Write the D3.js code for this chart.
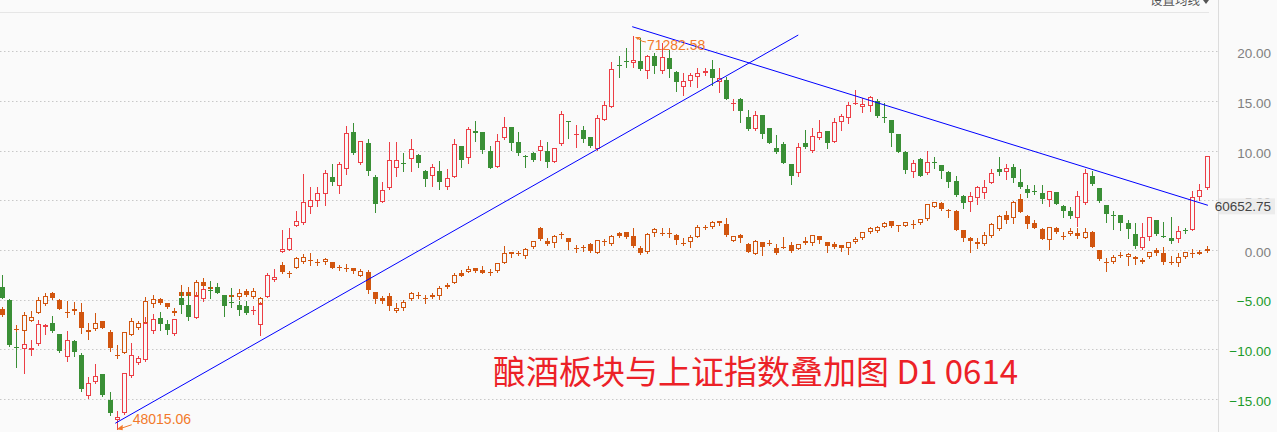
<!DOCTYPE html>
<html><head><meta charset="utf-8">
<script src="https://cdn.jsdelivr.net/npm/d3@7"></script>
<style>html,body{margin:0;padding:0;background:#fafafa;overflow:hidden}</style>
</head><body><svg id="c" width="1277" height="432"></svg>
<script>
// 酿酒板块 (main) candles, % change: [open, high, low, close]
const sectorOHLC = [
[-3.70,-2.52,-4.83,-4.80],[-5.04,-4.93,-9.67,-9.57],[-9.72,-8.26,-11.78,-9.82],[-9.97,-9.37,-12.39,-9.47],[-10.07,-9.06,-10.57,-9.87],
[-9.47,-7.05,-9.57,-7.45],[-7.80,-7.45,-8.46,-7.58],[-7.32,-6.60,-8.21,-8.16],[-8.46,-8.46,-10.24,-10.14],[-10.81,-8.13,-11.15,-9.06],
[-9.16,-9.11,-10.64,-10.24],[-10.62,-10.34,-14.23,-14.00],[-14.67,-12.76,-14.95,-13.42],[-13.34,-11.51,-13.36,-12.64],[-12.52,-12.49,-14.70,-14.65],
[-15.11,-14.33,-16.62,-16.44],[-17.07,-16.26,-18.00,-16.82],[-16.46,-12.39,-16.51,-12.42],[-12.69,-9.40,-12.79,-10.60],[-11.41,-10.67,-11.48,-10.91],
[-11.08,-6.72,-11.13,-7.35],[-8.11,-6.44,-8.31,-6.92],[-6.88,-6.27,-8.06,-7.45],[-7.45,-7.05,-8.41,-8.06],[-8.49,-6.95,-8.53,-6.98],
[-4.80,-4.18,-6.31,-5.54],[-5.54,-4.43,-7.05,-6.78],[-6.80,-4.23,-6.85,-4.63],[-4.96,-3.68,-5.11,-3.96],[-3.98,-3.12,-4.80,-4.08],
[-3.73,-3.35,-4.38,-4.33],[-4.53,-4.53,-6.65,-5.61],[-5.24,-3.83,-5.74,-5.34],[-5.54,-5.14,-6.55,-6.04],[-5.64,-5.14,-6.44,-6.31],
[-6.12,-5.61,-6.44,-6.07],[-7.55,-5.24,-8.56,-5.44],[-4.70,-2.29,-4.76,-2.52],[-3.02,-1.94,-3.12,-2.75],[-0.17,2.01,-0.20,0.10],
[0.00,2.19,-0.05,1.24],[2.45,3.88,2.42,2.92],[2.69,7.65,2.62,4.83],[4.30,6.31,3.76,5.04],[4.96,6.31,4.45,5.71],
[5.59,8.01,4.58,7.72],[7.35,8.66,6.55,6.80],[6.48,8.86,5.74,8.66],[8.13,12.52,7.68,11.75],[11.85,12.82,9.67,9.74],
[8.73,10.98,8.66,10.95],[10.74,11.15,7.58,7.96],[7.35,7.55,3.86,4.68],[4.86,6.82,4.83,6.04],[6.21,10.83,6.19,9.03],
[8.21,10.83,7.47,9.06],[8.76,9.74,7.98,8.70],[9.13,11.18,7.96,10.14],[9.57,9.67,8.33,8.73],[7.99,8.06,6.48,7.15],
[7.48,8.66,6.48,8.39],[7.96,8.96,6.11,6.88],[6.37,8.16,6.11,7.22],[7.38,11.15,7.32,10.64],[10.47,10.50,8.39,9.06],
[9.29,12.42,8.79,12.15],[11.98,12.99,11.01,11.81],[11.85,11.88,9.80,10.07],[9.97,10.47,8.26,8.29],[8.39,11.68,8.36,10.98],
[11.25,13.42,11.22,12.36],[12.36,12.39,10.07,10.74],[10.85,11.85,9.57,9.80],[9.44,9.57,8.33,9.37],[9.80,9.90,8.96,9.06],
[10.00,11.08,9.06,10.47],[9.97,10.85,8.33,8.89],[8.89,10.27,8.83,10.24],[10.64,14.00,10.57,13.70],[12.96,13.00,11.31,12.89],
[11.63,12.59,10.40,11.68],[12.08,12.49,10.91,11.15],[11.41,11.43,10.40,10.47],[10.17,13.59,10.12,13.26],[13.14,15.00,13.09,14.60],
[14.43,18.96,14.40,18.23],[18.66,19.57,17.39,18.60],[19.06,20.37,18.46,19.00],[18.80,21.55,18.46,19.13],[19.03,21.32,18.13,18.20],
[18.03,19.59,17.29,19.57],[19.57,19.81,17.79,18.56],[18.03,20.81,17.79,19.47],[19.30,20.14,17.39,18.20],[17.96,17.99,16.04,16.95],
[16.38,17.79,15.61,17.05],[17.05,17.85,16.55,17.62],[17.45,18.30,16.44,17.79],[17.79,18.36,17.62,18.03],[18.23,19.13,16.62,17.29],
[16.89,18.36,15.94,17.29],[17.12,17.45,15.16,15.21],[14.80,15.21,14.10,14.85],[15.21,15.34,12.92,14.00],[13.42,14.10,12.13,12.18],
[12.15,14.00,12.13,13.59],[13.59,13.61,11.25,11.65],[12.26,12.29,10.74,10.81],[10.30,11.58,9.74,9.84],[10.67,10.91,8.73,8.79],
[8.63,8.66,6.65,7.48],[7.72,10.77,7.48,10.42],[10.81,12.08,10.30,10.40],[10.00,12.26,9.90,11.48],[11.25,13.09,11.18,11.85],
[11.98,12.00,10.30,10.81],[10.91,13.26,10.88,12.86],[12.92,13.67,12.08,13.49],[13.32,14.87,12.76,14.60],[14.75,16.11,14.72,14.78],
[14.37,15.28,13.93,14.70],[14.53,15.51,14.03,15.38],[15.00,15.18,13.42,13.52],[13.39,14.77,12.92,13.33],[13.09,13.11,10.50,11.81],
[11.68,11.70,9.84,9.90],[9.90,10.00,7.78,8.06],[7.82,9.06,7.38,8.73],[9.16,9.29,7.46,7.48],[7.72,9.97,7.70,8.83],
[8.82,9.33,8.23,8.76],[8.56,8.58,7.28,7.99],[7.82,7.99,6.37,6.88],[6.95,7.48,5.44,5.54],[5.44,5.54,4.26,4.76],
[4.86,5.87,3.93,5.44],[5.21,6.44,4.60,6.37],[5.71,7.05,5.27,6.31],[6.72,8.13,6.70,7.72],[8.16,9.36,7.60,7.88],
[7.82,8.66,7.12,8.23],[8.33,8.66,6.88,7.22],[6.82,8.13,6.27,6.37],[6.11,6.55,5.31,5.71],[5.90,6.55,5.64,5.84],
[5.77,6.55,4.70,5.14],[5.04,5.96,4.46,5.94],[5.87,5.89,4.61,4.63],[4.46,4.53,3.35,3.96],[3.96,4.36,3.25,3.42],
[3.19,5.94,2.42,5.44],[4.70,8.13,4.68,7.72],[7.45,7.99,6.55,6.62],[6.21,6.27,4.80,4.96],[4.53,4.55,2.79,3.63],
[3.48,3.93,2.08,3.42],[3.52,3.55,2.01,2.75],[2.69,3.02,1.24,2.11],[1.61,2.69,0.17,0.40],[0.17,2.75,0.15,1.28],
[1.28,3.32,1.01,3.29],[3.02,3.04,1.51,1.61],[1.45,2.85,1.28,1.39],[1.24,3.29,0.67,0.91],[1.08,2.42,0.84,1.91],
[2.04,2.19,1.68,1.98],[2.01,5.94,1.99,5.31],[5.31,6.62,5.04,6.04],[6.21,9.49,6.19,9.47]
];
// 上证指数 (overlay) candles, % change: [open, high, low, close]
const indexOHLC = [
[-5.94,-5.74,-6.65,-6.55],[-6.55,-6.30,-7.60,-7.30],[-7.96,-7.55,-8.26,-7.99],[-8.13,-6.24,-9.33,-6.55],[-7.10,-6.14,-7.15,-6.78],
[-6.31,-4.70,-6.34,-5.04],[-5.44,-4.33,-5.54,-4.63],[-4.30,-4.23,-4.93,-4.80],[-5.04,-4.93,-5.94,-5.91],[-6.29,-5.14,-6.75,-6.24],
[-5.99,-5.24,-6.44,-6.14],[-6.21,-5.31,-8.31,-7.90],[-8.29,-7.32,-8.96,-8.06],[-7.99,-6.39,-8.01,-7.38],[-7.15,-7.10,-7.85,-7.82],
[-8.23,-8.01,-10.14,-9.90],[-10.57,-9.57,-10.83,-10.62],[-10.40,-8.23,-10.42,-8.26],[-8.53,-6.80,-8.56,-7.15],[-7.90,-7.10,-7.92,-7.38],
[-7.38,-4.70,-7.40,-5.14],[-5.39,-4.53,-5.69,-4.96],[-4.96,-4.86,-5.44,-5.31],[-5.37,-5.31,-5.84,-5.77],[-6.37,-5.81,-6.55,-6.14],
[-4.23,-3.52,-4.73,-4.63],[-4.26,-3.73,-4.73,-4.68],[-4.68,-3.02,-4.73,-3.19],[-3.19,-2.85,-3.70,-3.60],[-3.91,-3.63,-4.03,-3.71],
[-3.76,-3.52,-4.33,-4.30],[-4.60,-4.55,-5.00,-4.90],[-4.78,-4.33,-4.83,-4.53],[-4.70,-3.96,-4.96,-4.30],[-4.13,-3.93,-4.63,-4.56],
[-4.70,-3.83,-4.83,-4.13],[-5.44,-4.70,-5.54,-4.86],[-3.80,-3.20,-3.90,-3.30],[-3.00,-2.50,-3.10,-2.80],[-1.51,-1.24,-2.35,-2.19],
[-2.30,-2.08,-2.69,-2.37],[-1.78,-0.67,-1.84,-0.84],[-1.18,-0.43,-1.31,-0.67],[-0.99,-0.33,-1.51,-1.03],[-1.26,-0.91,-1.51,-1.23],
[-1.24,-0.84,-1.41,-0.94],[-1.21,-1.19,-1.81,-1.78],[-1.76,-1.51,-2.01,-1.80],[-1.83,-1.44,-2.08,-1.86],[-1.84,-1.78,-2.35,-2.08],
[-2.59,-1.94,-2.62,-2.11],[-2.25,-2.01,-4.30,-4.03],[-4.26,-4.23,-5.37,-4.96],[-4.86,-4.63,-5.37,-5.14],[-4.63,-4.36,-6.04,-5.61],
[-6.14,-5.29,-6.27,-5.81],[-5.87,-5.04,-6.04,-5.27],[-4.96,-4.20,-5.04,-4.30],[-4.55,-4.20,-4.86,-4.50],[-4.88,-4.53,-5.31,-4.85],
[-4.76,-4.30,-4.86,-4.53],[-4.63,-3.63,-4.96,-3.80],[-3.52,-3.29,-3.86,-3.76],[-3.29,-2.29,-3.35,-2.52],[-2.35,-2.01,-2.62,-2.59],
[-2.19,-1.61,-2.25,-1.91],[-1.84,-1.81,-2.19,-2.11],[-2.01,-1.61,-2.35,-2.29],[-2.17,-1.91,-2.52,-2.20],[-2.08,-1.28,-2.19,-1.34],
[-1.28,0.40,-1.31,-0.33],[-0.23,-0.20,-0.74,-0.43],[-0.32,-0.10,-0.50,-0.35],[-0.57,0.17,-0.78,0.07],[0.27,0.93,0.25,0.91],
[2.25,2.35,1.01,1.08],[0.91,1.18,0.50,0.60],[0.74,1.51,0.33,1.44],[1.61,1.84,1.18,1.64],[1.18,1.20,0.07,0.84],
[0.25,0.50,-0.23,0.22],[0.34,0.50,-0.07,0.31],[0.57,0.67,-0.17,-0.10],[-0.33,1.03,-0.35,1.01],[0.86,1.08,0.50,0.83],
[0.57,1.51,0.50,1.44],[1.68,1.78,1.34,1.44],[1.78,1.84,1.18,1.28],[1.41,2.25,0.33,0.43],[0.17,0.40,-0.40,-0.33],
[-0.23,1.68,-0.33,1.58],[1.68,2.25,1.44,2.08],[1.66,2.25,1.51,1.69],[1.69,2.19,1.34,1.66],[1.51,1.58,0.60,1.01],
[0.73,1.18,0.50,0.65],[0.78,1.51,0.33,1.28],[1.28,2.52,1.26,2.35],[2.35,2.52,2.11,2.19],[2.35,2.95,2.19,2.79],
[2.92,2.94,2.52,2.69],[2.59,3.25,1.44,1.51],[0.91,1.43,0.89,1.41],[1.51,1.58,0.78,1.18],[0.60,0.67,-0.23,-0.17],
[-0.40,0.96,-0.42,0.94],[0.78,0.81,-0.50,0.33],[0.70,1.01,0.50,0.65],[0.17,0.57,-0.40,-0.27],[0.35,1.34,0.17,0.31],
[0.50,0.84,-0.23,-0.10],[0.10,0.62,0.08,0.60],[0.91,1.34,0.60,0.74],[0.67,1.53,0.50,1.51],[1.41,1.43,0.74,1.01],
[0.78,0.81,-0.17,0.43],[0.60,0.84,0.23,0.33],[0.50,0.52,-0.10,0.17],[0.17,0.80,-0.43,0.78],[0.78,1.28,0.74,1.08],
[1.18,1.84,1.11,1.78],[1.78,2.35,1.76,2.25],[1.94,2.37,1.84,2.35],[2.29,2.77,2.27,2.75],[2.92,2.94,2.29,2.45],
[2.47,2.52,1.94,2.43],[2.45,2.85,2.44,2.79],[2.58,3.02,2.25,2.61],[2.69,3.14,2.62,3.12],[3.09,4.62,3.07,4.60],
[4.36,4.86,4.35,4.80],[4.70,4.80,4.03,4.13],[4.05,4.10,3.35,4.01],[3.93,4.03,1.99,2.01],[2.01,2.03,0.91,1.24],
[1.24,1.34,-0.17,0.91],[0.57,1.18,0.17,0.78],[0.57,1.84,0.55,1.51],[1.41,2.69,1.34,2.62],[2.08,3.52,2.06,3.45],
[3.49,3.96,2.69,3.02],[3.19,4.93,2.69,4.83],[5.14,5.64,3.78,3.80],[3.42,3.52,2.19,2.59],[2.69,3.02,2.19,2.25],
[2.11,2.17,1.09,1.11],[1.01,2.31,0.07,2.29],[2.25,2.35,1.68,1.78],[1.46,1.78,1.08,1.42],[1.58,2.19,1.56,1.91],
[1.74,2.19,1.18,1.44],[1.24,2.19,1.18,1.78],[1.81,1.91,0.31,0.33],[0.00,0.02,-0.96,-0.94],[-1.16,-0.84,-2.11,-1.20],
[-1.24,-0.50,-1.34,-0.74],[-0.52,-0.23,-0.74,-0.49],[-0.74,-0.33,-1.51,-0.40],[-0.67,-0.60,-1.41,-0.94],[-1.24,-0.84,-1.34,-1.01],
[-0.74,-0.21,-0.76,-0.23],[0.00,0.23,-0.50,-0.33],[-0.33,0.27,-1.41,-1.24],[-1.23,-0.57,-1.41,-1.26],[-1.34,-0.33,-1.61,-0.74],
[-0.74,-0.21,-0.76,-0.23],[-0.32,0.07,-0.67,-0.35],[-0.43,0.00,-0.45,-0.17],[0.10,0.40,-0.17,-0.07]
];
const yTicks = [20, 15, 10, 5, 0, -5, -10, -15];
// trend lines in [candle index, % value]
const trendUp = [[15.8, -17.45], [111.06, 21.65]];
const trendDown = [[87.9, 22.49], [168.2, 4.50]];
const titleText = "酿酒板块与上证指数叠加图 D1 0614";
const maxLabel = "71282.58";
const minLabel = "48015.06";
const lastLabel = "60652.75";
const menuText = "设置均线";

const BG = "#fafafa", RED = "#ec3e45", GREEN = "#3a8f36", ORANGE = "#d1550f", ANNO = "#f2792a";
const svg = d3.select("#c");
svg.append("rect").attr("width", 1277).attr("height", 432).attr("fill", BG);

const x = d3.scaleLinear().domain([0, sectorOHLC.length - 1]).range([2, 1206.5]);
const y = d3.scaleLinear().domain([-15, 20]).range([250 + 15 * 9.93, 250 - 20 * 9.93]);

// top bar line + menu text
svg.append("line").attr("x1", 0).attr("x2", 1209).attr("y1", 12.5).attr("y2", 12.5).attr("stroke", "#e6e6e6");
svg.append("text").attr("x", 1150).attr("y", 4.5).attr("font-family", "Noto Sans CJK SC").attr("font-size", 12.5)
  .attr("fill", "#555").text(menuText);
svg.append("path").attr("d", "M1203,0 L1209,0 L1206,4 Z").attr("fill", "#555");

// grid
svg.append("g").selectAll("line").data(yTicks).join("line")
  .attr("x1", 0).attr("x2", 1218).attr("y1", d => Math.round(y(d)) + 0.5).attr("y2", d => Math.round(y(d)) + 0.5)
  .attr("stroke", "#c8c8c8").attr("stroke-dasharray", "1.5,2.5");

// axis line
svg.append("line").attr("x1", 1218.5).attr("x2", 1218.5).attr("y1", 0).attr("y2", 432).attr("stroke", "#dcdcdc");

// y axis labels
const axis = d3.axisRight(y).tickValues(yTicks).tickSize(0).tickFormat(d3.format(".2f"));
const ag = svg.append("g").attr("transform", "translate(1218,2)").call(axis);
ag.select(".domain").remove();
ag.selectAll("text").attr("x", 53).attr("text-anchor", "end").attr("font-family", "Liberation Sans, Arial")
  .attr("font-size", 13.5).attr("fill", d => d < 0 ? "#1b9a2a" : "#808080");

function drawCandles(data, upCol, downCol, upHollow, downHollow) {
  const g = svg.append("g").attr("shape-rendering", "crispEdges");
  data.forEach((d, i) => {
    const [o, h, l, c] = d;
    const up = c >= o;
    const col = up ? upCol : downCol;
    const hollow = up ? upHollow : downHollow;
    const px = Math.round(x(i));
    g.append("line").attr("x1", px + 0.5).attr("x2", px + 0.5)
      .attr("y1", Math.round(y(h))).attr("y2", Math.round(y(l)) + 1).attr("stroke", col);
    const top = Math.round(Math.min(y(o), y(c))), bot = Math.round(Math.max(y(o), y(c)));
    if (bot - top <= 1) {
      g.append("line").attr("x1", px - 2).attr("x2", px + 3).attr("y1", top + 0.5).attr("y2", top + 0.5).attr("stroke", col);
    } else {
      g.append("rect").attr("x", px - 1.5).attr("y", top + 0.5).attr("width", 4).attr("height", bot - top - 1)
        .attr("fill", hollow ? BG : col).attr("stroke", col);
    }
  });
}
drawCandles(indexOHLC, ORANGE, ORANGE, true, false);
drawCandles(sectorOHLC, RED, GREEN, true, false);

// trend lines
const line = d3.line().x(d => x(d[0])).y(d => y(d[1]));
[trendUp, trendDown].forEach(t => svg.append("path").attr("d", line(t)).attr("fill", "none").attr("stroke", "#0000ff").attr("stroke-width", 1));

// max / min annotations
let iMax = 0, iMin = 0;
sectorOHLC.forEach((d, i) => { if (d[1] > sectorOHLC[iMax][1]) iMax = i; if (d[2] < sectorOHLC[iMin][2]) iMin = i; });
const mx = x(iMax), my = y(sectorOHLC[iMax][1]);
svg.append("path").attr("d", `M${mx + 2},${my + 1} L${mx + 8},${my + 1} L${mx + 5},${my + 4} Z`).attr("fill", ANNO);
svg.append("path").attr("d", `M${mx + 6},${my + 3} Q${mx + 9},${my + 6} ${mx + 13},${my + 6}`).attr("fill", "none").attr("stroke", ANNO);
svg.append("text").attr("x", mx + 14).attr("y", my + 14).attr("font-family", "Liberation Sans, Arial").attr("font-size", 14)
  .attr("fill", ANNO).text(maxLabel);
const nx = x(iMin), ny = y(sectorOHLC[iMin][2]);
svg.append("line").attr("x1", nx + 15).attr("y1", ny - 4).attr("x2", nx + 3).attr("y2", ny).attr("stroke", ANNO);
svg.append("path").attr("d", `M${nx},${ny + 0.5} L${nx + 6},${ny - 4} L${nx + 6},${ny + 1.5} Z`).attr("fill", ANNO);
svg.append("text").attr("x", nx + 16).attr("y", ny - 5).attr("font-family", "Liberation Sans, Arial").attr("font-size", 14)
  .attr("fill", ANNO).text(minLabel);

// last value label on axis (covers the 5.00 tick like the reference)
const ly = y(trendDown[1][1]);
svg.append("rect").attr("x", 1219).attr("y", ly - 7).attr("width", 56).attr("height", 16).attr("fill", "#ececec");
svg.append("text").attr("x", 1271).attr("y", ly + 6).attr("text-anchor", "end").attr("font-family", "Liberation Sans, Arial")
  .attr("font-size", 13.5).attr("fill", "#444").text(lastLabel);

// title
svg.append("text").attr("x", 493).attr("y", 384).attr("font-family", "Noto Sans CJK SC").attr("font-size", 33)
  .attr("fill", "#ec2127").text(titleText);
</script>
</body></html>
